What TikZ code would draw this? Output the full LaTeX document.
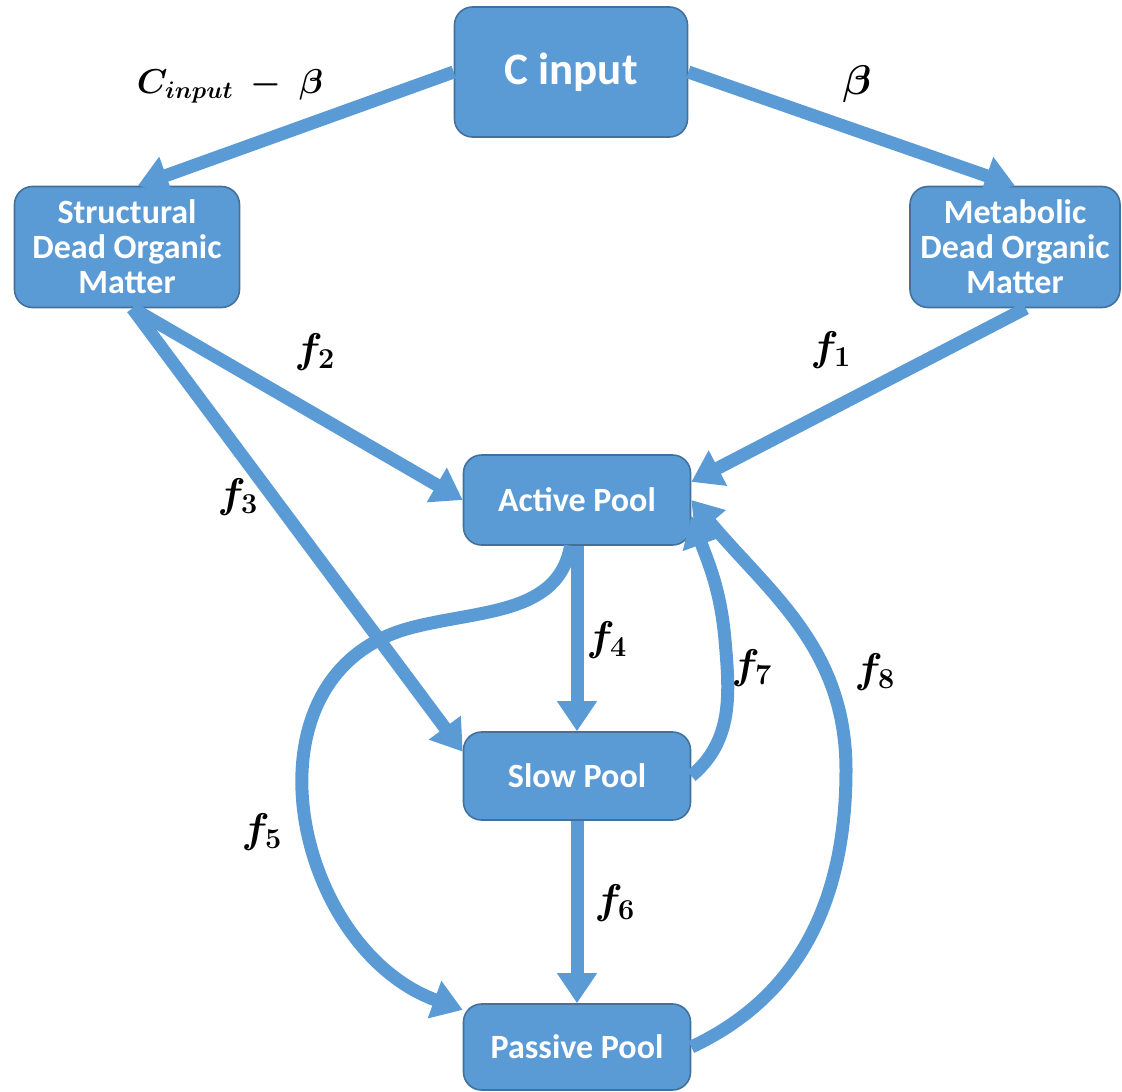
\documentclass[tikz,border=0pt]{standalone}
\usepackage{amsmath}
\usepackage{bm}
\usepackage{fontspec}
\setsansfont{Carlito}
\usetikzlibrary{positioning,arrows.meta}
\definecolor{poolblue}{HTML}{5B9BD5}
\definecolor{poolline}{HTML}{41719C}

\begin{document}
\begin{tikzpicture}[x=0.5pt,y=-0.5pt,
    pool/.style={draw=poolline,line width=0.8pt,fill=poolblue,rounded corners=9pt,
      text=white,font=\sffamily\bfseries\fontsize{17}{17.5}\selectfont,align=center,
      inner sep=0pt,minimum width=113.5pt,minimum height=44pt},
    flow/.style={line width=6.5pt,draw=poolblue,-{Triangle[length=15pt,width=19pt]}},
    lbl/.style={font=\fontsize{20}{22}\selectfont}]
  \useasboundingbox (0,0) rectangle (1122,1091);
  % carbon pools
  \node [pool,minimum width=116.5pt,minimum height=65pt,font=\sffamily\bfseries\fontsize{22.5}{24}\selectfont] (cin) at (571,72) {C input};
  \node [pool,minimum width=112.5pt,minimum height=60.5pt] (sdom) at (127,247) {Structural\\Dead Organic\\Matter};
  \node [pool,minimum width=105pt,minimum height=60.5pt] (mdom) at (1015,247) {Metabolic\\Dead Organic\\Matter};
  \node [pool,minimum height=45pt] (act) at (577,500) {Active Pool};
  \node [pool] (slow) at (577,776) {Slow Pool};
  \node [pool,minimum height=43pt] (pas) at (577,1047) {Passive Pool};
  % flows
  \draw [flow] (cin.west) -- (sdom.80);
  \draw [flow] (cin.east) -- (mdom.north);
  \draw [flow] (sdom.-85) -- (act.west);
  \draw [flow] (sdom.-85) -- (slow.168);
  \draw [flow] (mdom.-80) -- (act.9);
  \draw [flow] (act.south) -- (slow.north);
  \draw [flow] (slow.south) -- (pas.north);
  \draw [flow] (act.262) to[out=-100,in=15] (410,628) to[out=195,in=160,looseness=1.2] (pas.162);
  \draw [flow] (slow.east) to[out=40,in=-85] (725,640) to[out=95,in=-70] (act.-8);
  \draw [flow] (pas.east) to[out=25,in=-90] (846,770) to[out=90,in=-50] (act.0);
  % rates
  \node [lbl,font=\fontsize{17}{20}\selectfont] (lcin) at (230,86) {$\bm{C_{input}}\;\bm{-}\;\bm{\beta}$};
  \node [lbl] (lbeta) at (857,84) {$\bm{\beta}$};
  \node [lbl] (lf1) at (831,350) {$\bm{f_1}$};
  \node [lbl] (lf2) at (315,352) {$\bm{f_2}$};
  \node [lbl] (lf3) at (238,497) {$\bm{f_3}$};
  \node [lbl] (lf4) at (607,640) {$\bm{f_4}$};
  \node [lbl] (lf5) at (262,832) {$\bm{f_5}$};
  \node [lbl] (lf6) at (615,903) {$\bm{f_6}$};
  \node [lbl] (lf7) at (752,668) {$\bm{f_7}$};
  \node [lbl] (lf8) at (875,672) {$\bm{f_8}$};
\end{tikzpicture}
\end{document}
